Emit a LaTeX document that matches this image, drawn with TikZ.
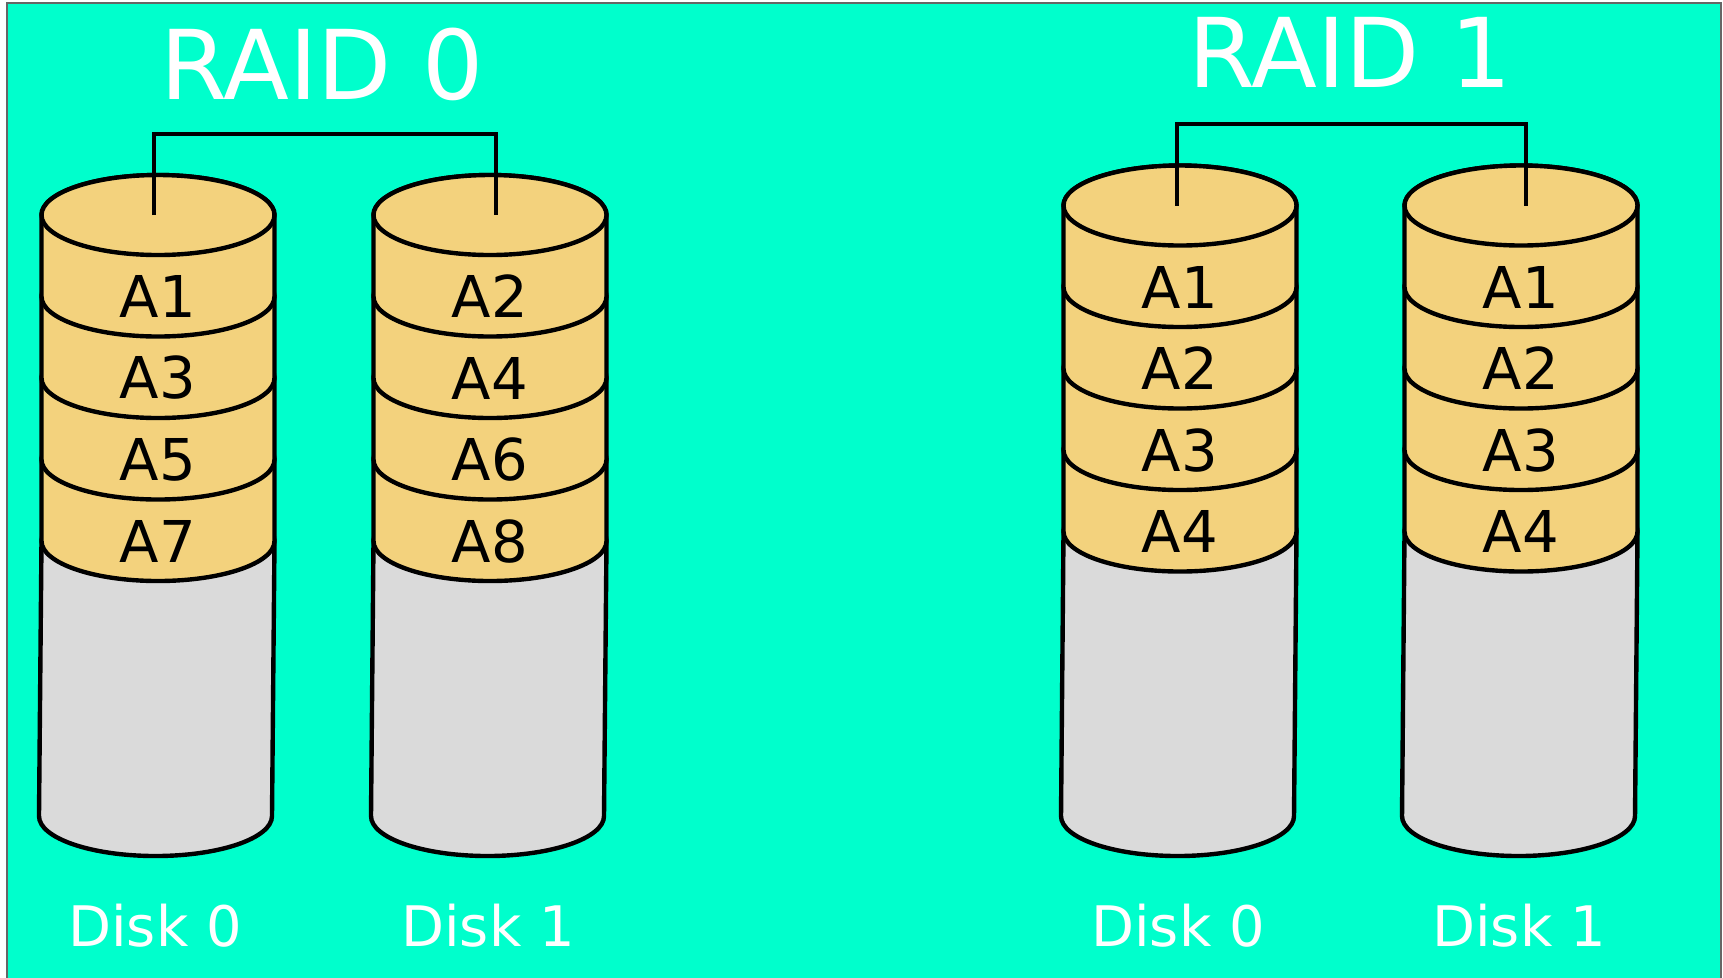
\documentclass[tikz,border=0pt]{standalone}
\usepackage{fontspec}
\setmainfont{DejaVu Sans}
\usepackage{tikz}
\usepackage{xcolor}
\definecolor{raidbg}{RGB}{0,255,204}
\definecolor{stripfill}{RGB}{243,210,125}
\definecolor{freefill}{RGB}{218,218,218}
\tikzstyle{strip} = [draw, fill=stripfill, line width=1.25pt]
\tikzstyle{freearea} = [draw, fill=freefill, line width=1.25pt]
\tikzstyle{bus} = [draw, line width=1.2pt]
\tikzstyle{block} = [inner sep=0pt, font=\fontsize{16.4}{19}\selectfont]
\tikzstyle{raidtitle} = [inner sep=0pt, text=white, font=\fontsize{27.4}{32}\selectfont]
\tikzstyle{disklabel} = [inner sep=0pt, text=white, font=\fontsize{15.9}{18}\selectfont]
% one stripe: x, top y, name, text
\newcommand{\drawstrip}[4]{%
  \path[strip] (#1-116.5,#2) -- (#1-116.5,#2+81.5)
    arc[start angle=180, end angle=360, x radius=11.65mm, y radius=4mm]
    -- (#1+116.5,#2)
    arc[start angle=0, end angle=180, x radius=11.65mm, y radius=4mm] -- cycle;
  \node[block] (#3) at (#1,#2+81.5) {#4};
}
% whole disk: x, top y, name, four stripes
\newcommand{\drawdisk}[7]{%
  \coordinate (#3) at (#1,#2);
  \path[freearea] (#1-116.5,#2+326) -- (#1-119,816)
    arc[start angle=180, end angle=360, x radius=11.65mm, y radius=4mm]
    -- (#1+116.5,#2+326)
    arc[start angle=0, end angle=180, x radius=11.65mm, y radius=4mm] -- cycle;
  \drawstrip{#1}{#2+244.5}{#3-4}{#7}
  \drawstrip{#1}{#2+163}{#3-3}{#6}
  \drawstrip{#1}{#2+81.5}{#3-2}{#5}
  \drawstrip{#1}{#2}{#3-1}{#4}
  \path[strip] (#1,#2) ellipse [x radius=11.65mm, y radius=4mm];
}
\begin{document}
\begin{tikzpicture}[x=0.1mm, y=-0.1mm]
        \useasboundingbox (0,0) rectangle (1723,977);
        \path[fill=raidbg, draw=gray!80!black, line width=0.6pt] (7,3) rectangle (1721,1000);

        \node [raidtitle] (raid0) at (322,64) {RAID 0};
        \node [raidtitle] (raid1) at (1350,52) {RAID 1};

        \drawdisk{158}{215}{r0d0}{A1}{A3}{A5}{A7}
        \drawdisk{490}{215}{r0d1}{A2}{A4}{A6}{A8}
        \drawdisk{1180}{205.5}{r1d0}{A1}{A2}{A3}{A4}
        \drawdisk{1521}{205.5}{r1d1}{A1}{A2}{A3}{A4}

        \node [disklabel] (r0n0) at (155,926) {Disk 0};
        \node [disklabel] (r0n1) at (488,926) {Disk 1};
        \node [disklabel] (r1n0) at (1178,926) {Disk 0};
        \node [disklabel] (r1n1) at (1519,926) {Disk 1};

        \coordinate (r0bus) at (323,134);
        \coordinate (r1bus) at (1350,124);
        \path [bus] ([xshift=-0.4mm]r0d0) |- (r0bus) -| ([xshift=0.6mm]r0d1);
        \path [bus] ([xshift=-0.3mm]r1d0) |- (r1bus) -| ([xshift=0.5mm]r1d1);
\end{tikzpicture}
\end{document}
